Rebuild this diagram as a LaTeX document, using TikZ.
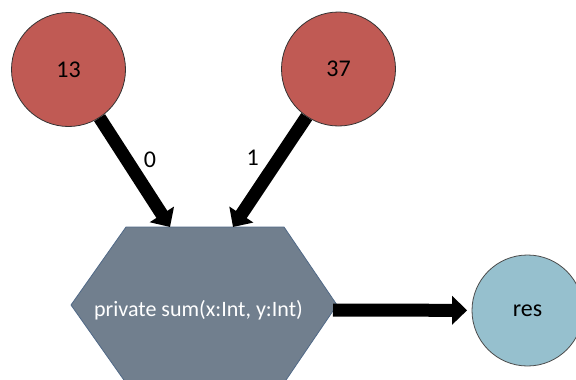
\documentclass[tikz,border=0pt]{standalone}
\usepackage{fontspec}
\setmainfont{Carlito}
\usetikzlibrary{arrows.meta}
\definecolor{valred}{RGB}{192,90,84}
\definecolor{resblue}{RGB}{150,192,206}
\definecolor{fnslate}{RGB}{113,127,142}
\definecolor{fnedge}{RGB}{80,105,135}
\tikzset{
  valnode/.style={circle, draw=black!80, line width=0.8pt, fill=valred,
    minimum size=114pt, inner sep=0pt, font=\fontsize{24}{28}\selectfont},
  resnode/.style={circle, draw=black!70, line width=0.8pt, fill=resblue,
    minimum size=111pt, inner sep=0pt, font=\fontsize{24}{28}\selectfont},
  fnlabel/.style={text=white, font=\fontsize{22}{26}\selectfont, inner sep=0pt},
  flow/.style={draw=black, line width=13pt,
    -{Triangle[width=28pt,length=15pt]}},
  idx/.style={font=\fontsize{24}{28}\selectfont, inner sep=0pt}
}
\begin{document}
\begin{tikzpicture}[x=1pt,y=-1pt]
  \useasboundingbox (0,0) rectangle (576,380);

  % function hexagon
  \coordinate (hl) at (71,305);
  \coordinate (htl) at (126,227);
  \coordinate (htr) at (284,227);
  \coordinate (hr) at (337,305);
  \coordinate (hbr) at (284,383);
  \coordinate (hbl) at (126,383);
  \filldraw[fill=fnslate, draw=fnedge, line width=0.8pt]
    (hl) -- (htl) -- (htr) -- (hr) -- (hbr) -- (hbl) -- cycle;
  \node[fnlabel] (fn) at (198.5,310) {private sum(x:Int, y:Int)};

  % argument values and result
  \node[valnode] (a) at (68.5,69.5) {13};
  \node[valnode] (b) at (338.5,69) {37};
  \node[resnode] (res) at (527.5,310.5) {res};

  % ports on the hexagon
  \coordinate (in0) at (170,227);
  \coordinate (in1) at (233,227);
  \coordinate (out) at (333,310);

  % connectors
  \draw[flow] (a) -- node[idx, pos=0.48, xshift=16.6pt, yshift=10.7pt] {0} (in0);
  \draw[flow] (b) -- node[idx, pos=0.485, xshift=-18.1pt, yshift=12pt] {1} (in1);
  \draw[flow, shorten >=4.5pt] (out) -- (res);
\end{tikzpicture}
\end{document}
